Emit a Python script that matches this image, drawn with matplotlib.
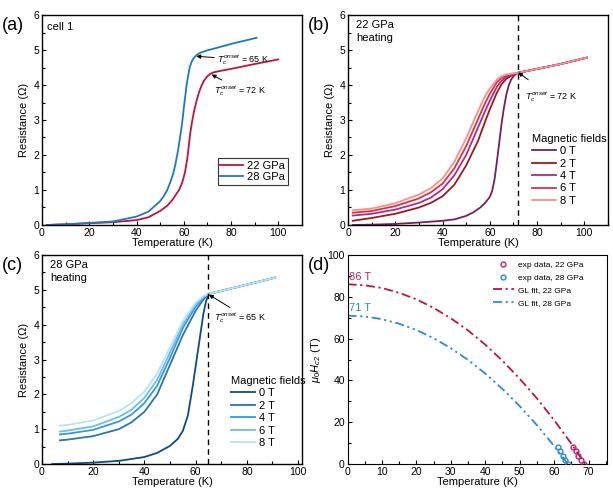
import matplotlib
matplotlib.use("Agg")
import matplotlib.pyplot as plt
from matplotlib.ticker import MultipleLocator

plt.rcParams["font.family"] = ["Liberation Sans", "DejaVu Sans"]
plt.rcParams["mathtext.fontset"] = "custom"
plt.rcParams["mathtext.rm"] = "Liberation Sans"
plt.rcParams["mathtext.it"] = "Liberation Sans:italic"
plt.rcParams["xtick.direction"] = "in"
plt.rcParams["ytick.direction"] = "in"

# ---- panel (a): cell 1, zero field ----
T_a22 = [2, 10, 20, 30, 40, 45, 50, 53, 55, 56.5, 58, 59.3, 60.5, 61.5, 62.7, 63.5, 64.5, 65.5,
         66.5, 67.5, 68.5, 70, 71.3, 72.5, 76, 80, 90, 100]
R_a22 = [0.0, 0.02, 0.05, 0.08, 0.14, 0.22, 0.4, 0.55, 0.7, 0.85, 1.0, 1.2, 1.5, 1.9, 2.6, 2.95,
         3.3, 3.57, 3.8, 3.98, 4.12, 4.25, 4.32, 4.36, 4.41, 4.46, 4.6, 4.73]
T_a28 = [2, 10, 20, 30, 40, 45, 50, 51.5, 53, 54.3, 55.6, 56.5, 57.5, 58.3, 59.2, 60.3, 61.3,
         62.5, 63.3, 64.1, 65.5, 66.9, 70, 75, 81, 86, 90.8]
R_a28 = [0.0, 0.02, 0.06, 0.1, 0.24, 0.38, 0.68, 0.82, 1.0, 1.22, 1.48, 1.75, 2.1, 2.45, 2.85,
         3.5, 4.05, 4.5, 4.66, 4.76, 4.86, 4.92, 4.99, 5.08, 5.19, 5.27, 5.35]

# ---- panel (b): 22 GPa, fields ----
fields = ["0 T", "2 T", "4 T", "6 T", "8 T"]
T_b0 = [2, 10, 20, 30, 40, 45, 50, 53, 56, 58, 60, 61, 62, 63, 64, 65, 66, 67, 68, 69, 70, 71, 72]
R_b0 = [0.0, 0.01, 0.03, 0.07, 0.12, 0.16, 0.26, 0.36, 0.5, 0.63, 0.8, 0.97, 1.3, 1.8, 2.35, 2.9, 3.35, 3.72, 3.98, 4.15, 4.25, 4.31, 4.35]
T_b = [2, 10, 20, 30, 35, 40, 45, 50, 55, 58, 60, 63, 65, 67, 70, 72]
R_b2 = [0.12, 0.2, 0.32, 0.5, 0.63, 0.82, 1.15, 1.7, 2.4, 2.95, 3.3, 3.78, 4.02, 4.18, 4.3, 4.35]
R_b4 = [0.27, 0.32, 0.44, 0.63, 0.78, 1.02, 1.42, 2.0, 2.78, 3.25, 3.55, 3.95, 4.12, 4.23, 4.31, 4.35]
R_b6 = [0.35, 0.4, 0.54, 0.76, 0.93, 1.18, 1.62, 2.25, 3.02, 3.48, 3.75, 4.08, 4.2, 4.27, 4.32, 4.35]
R_b8 = [0.42, 0.47, 0.62, 0.87, 1.05, 1.33, 1.8, 2.48, 3.25, 3.68, 3.9, 4.15, 4.25, 4.3, 4.33, 4.35]
T_btail = [72, 80, 90, 101]
R_btail = [4.35, 4.46, 4.6, 4.78]

# ---- panel (c): 28 GPa, fields ----
T_c0 = [4, 10, 20, 30, 40, 45, 50, 53, 55, 57, 58, 59, 60, 61, 62, 63, 64, 65]
R_c0 = [0.0, 0.01, 0.04, 0.09, 0.2, 0.32, 0.52, 0.72, 0.95, 1.4, 1.85, 2.3, 2.8, 3.3, 3.8, 4.3, 4.65, 4.88]
T_c = [7, 10, 20, 30, 35, 40, 45, 50, 55, 60, 63, 65]
R_c2 = [0.68, 0.7, 0.8, 1.0, 1.2, 1.5, 2.0, 2.85, 3.7, 4.4, 4.72, 4.88]
R_c4 = [0.85, 0.87, 0.98, 1.22, 1.42, 1.75, 2.25, 3.05, 3.9, 4.52, 4.77, 4.88]
R_c6 = [0.93, 0.96, 1.08, 1.35, 1.56, 1.9, 2.42, 3.2, 4.0, 4.58, 4.8, 4.88]
R_c8 = [1.1, 1.12, 1.25, 1.52, 1.75, 2.08, 2.6, 3.35, 4.1, 4.63, 4.82, 4.88]
T_ctail = [65, 70, 80, 91]
R_ctail = [4.88, 4.97, 5.15, 5.35]

# ---- panel (d): upper critical field ----
T_exp22 = [65.5, 66.3, 67.0, 67.8, 68.8]
H_exp22 = [8, 6, 4, 2, 0]
T_exp28 = [61.0, 61.8, 62.6, 63.3, 64.0]
H_exp28 = [8, 6, 4, 2, 0]
T_gl22 = [0, 5, 10, 15, 20, 25, 30, 35, 40, 45, 50, 55, 60, 65, 69]
H_gl22 = [86, 85.5, 84.2, 81.9, 78.8, 74.7, 69.7, 63.9, 57.1, 49.4, 40.8, 31.4, 21.0, 9.7, 0]
T_gl28 = [0, 5, 10, 15, 20, 25, 30, 35, 40, 45, 50, 55, 60, 64]
H_gl28 = [71, 70.6, 69.3, 67.1, 64.1, 60.2, 55.4, 49.8, 43.3, 35.9, 27.7, 18.6, 8.6, 0]

red = "#c0143c"
blue = "#1f78c0"
cols_b = ["#7b1d5c", "#9e1a1a", "#b02a8a", "#e0303a", "#f59090"]
cols_c = ["#0d4b84", "#2a74b0", "#3499de", "#6cbcec", "#b8e0f8"]

fig = plt.figure(figsize=(6.13, 4.97), dpi=100)
axa = fig.add_axes([0.0685, 0.5473, 0.424, 0.4225])
axb = fig.add_axes([0.5677, 0.5473, 0.424, 0.4225])
axc = fig.add_axes([0.0685, 0.0664, 0.424, 0.4205])
axd = fig.add_axes([0.567, 0.0664, 0.424, 0.4205])


def style_R(ax, xmax):
    ax.set_xlim(0, xmax)
    ax.set_ylim(0, 6)
    ax.xaxis.set_major_locator(MultipleLocator(20))
    ax.xaxis.set_minor_locator(MultipleLocator(10))
    ax.yaxis.set_major_locator(MultipleLocator(1))
    ax.yaxis.set_minor_locator(MultipleLocator(0.5))
    ax.set_xlabel("Temperature (K)", fontsize=8, labelpad=0)
    ax.set_ylabel("Resistance (\u03a9)", fontsize=8, labelpad=3)
    ax.tick_params(labelsize=7.5, length=3, width=0.8, pad=2)
    ax.tick_params(which="minor", length=2, width=0.8)
    for s in ax.spines.values():
        s.set_linewidth(1.0)


tc = r"$T_c^{onset}$"
arr = dict(arrowstyle="-|>", color="black", lw=0.7, mutation_scale=6, shrinkB=0)

# (a)
axa.plot(T_a22, R_a22, color=red, lw=1.3, label="22 GPa")
axa.plot(T_a28, R_a28, color=blue, lw=1.3, label="28 GPa")
style_R(axa, 110)
axa.text(0.018, 0.945, "cell 1", transform=axa.transAxes, fontsize=8, va="center")
axa.annotate(tc + " = 65 K", xy=(65.3, 4.82), xytext=(74, 4.73), fontsize=6.5,
             va="center", arrowprops=dict(arr, shrinkA=0))
axa.annotate(tc + " = 72 K", xy=(71.8, 4.3), xytext=(73, 3.85), fontsize=6.5,
             va="center", arrowprops=dict(arr, shrinkA=9))
leg = axa.legend(loc="lower right", bbox_to_anchor=(0.945, 0.19), fontsize=8,
                 fancybox=False, edgecolor="black", handlelength=2.0,
                 handletextpad=0.4, borderpad=0.25, labelspacing=0.15, borderaxespad=0)
leg.get_frame().set_linewidth(0.8)

# (b)
Rb = [R_b0, R_b2, R_b4, R_b6, R_b8]
for i, lab in enumerate(fields):
    tt = T_b0 if i == 0 else T_b
    axb.plot(list(tt) + T_btail[1:], list(Rb[i]) + R_btail[1:], color=cols_b[i], lw=1.3, label=lab)
axb.axvline(72, color="black", lw=1, ls=(0, (4, 3)))
style_R(axb, 110)
axb.text(0.03, 0.975, "22 GPa\nheating", transform=axb.transAxes, fontsize=8, va="top",
         linespacing=1.3)
axb.annotate(tc + " = 72 K", xy=(72, 4.36), xytext=(75, 3.67), fontsize=6.5, va="center",
             arrowprops=dict(arr, shrinkA=8))
axb.legend(loc="lower left", bbox_to_anchor=(0.69, 0.07), fontsize=8,
           title="Magnetic fields", title_fontsize=8, frameon=False,
           handlelength=2.2, handletextpad=0.3, labelspacing=0.22,
           borderaxespad=0, alignment="left")

# (c)
Rc = [R_c0, R_c2, R_c4, R_c6, R_c8]
for i, lab in enumerate(fields):
    tt = T_c0 if i == 0 else T_c
    axc.plot(list(tt) + T_ctail[1:], list(Rc[i]) + R_ctail[1:], color=cols_c[i], lw=1.3, label=lab)
axc.axvline(65, color="black", lw=1, ls=(0, (4, 3)))
style_R(axc, 101.5)
axc.text(0.03, 0.975, "28 GPa\nheating", transform=axc.transAxes, fontsize=8, va="top",
         linespacing=1.3)
axc.annotate(tc + " = 65 K", xy=(65.2, 4.86), xytext=(67, 4.2), fontsize=6.5, va="center",
             arrowprops=dict(arr, shrinkA=0, relpos=(0.4, 1.0)))
axc.legend(loc="lower left", bbox_to_anchor=(0.71, 0.055), fontsize=8,
           title="Magnetic fields", title_fontsize=8, frameon=False,
           handlelength=2.2, handletextpad=0.3, labelspacing=0.22,
           borderaxespad=0, alignment="left")

# (d)
axd.plot(T_exp22, H_exp22, "o", ms=3.5, mfc="none", mec="#c41e6e", mew=1.0,
         label="exp data, 22 GPa", zorder=3)
axd.plot(T_exp28, H_exp28, "o", ms=3.5, mfc="none", mec="#2a8ad0", mew=1.0,
         label="exp data, 28 GPa", zorder=3)
axd.plot(T_gl22, H_gl22, color=red, lw=1.3, dashes=(5, 2, 1.2, 2),
         label="GL fit, 22 GPa")
axd.plot(T_gl28, H_gl28, color="#2a8ad0", lw=1.3, dashes=(5, 2, 1.2, 2, 1.2, 2),
         label="GL fit, 28 GPa")
axd.text(0.5, 89.5, "86 T", color="#c41e6e", fontsize=8, va="center")
axd.text(0.5, 74.5, "71 T", color="#2a8ad0", fontsize=8, va="center")
axd.set_xlim(0, 75.5)
axd.set_ylim(0, 100)
axd.xaxis.set_major_locator(MultipleLocator(10))
axd.xaxis.set_minor_locator(MultipleLocator(5))
axd.yaxis.set_major_locator(MultipleLocator(20))
axd.yaxis.set_minor_locator(MultipleLocator(10))
axd.set_xlabel("Temperature (K)", fontsize=8, labelpad=0)
axd.set_ylabel(r"$\mu_0H_{c2}$ (T)", fontsize=8, labelpad=3)
axd.tick_params(labelsize=7.5, length=3, width=0.8, pad=2)
axd.tick_params(which="minor", length=2, width=0.8)
axd.legend(loc="upper right", bbox_to_anchor=(0.92, 0.985), fontsize=6, frameon=False,
           handlelength=2.5, handletextpad=0.5, labelspacing=0.55, borderaxespad=0)

for ax, lab in [(axa, "(a)"), (axb, "(b)"), (axc, "(c)"), (axd, "(d)")]:
    bb = ax.get_position()
    fig.text(bb.x0 - 0.065, bb.y1 - 0.004, lab, fontsize=13, va="top", ha="left")

fig.savefig("out.png", dpi=100)
